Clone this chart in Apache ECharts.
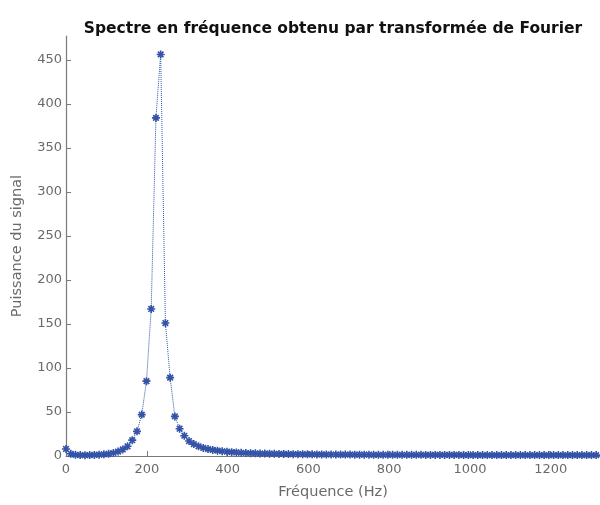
<!DOCTYPE html>
<html>
<head>
<meta charset="utf-8">
<script src="https://cdn.jsdelivr.net/npm/echarts@6/dist/echarts.min.js"></script>
<style>
  html, body { margin: 0; padding: 0; background: #fff; }
  #chart { width: 600px; height: 505px; }
</style>
</head>
<body>
<div id="chart"></div>
<script>
// Frequency resolution of the FFT (Hz per bin)
const binWidth = 11.71875;

// Power of each FFT bin, starting at 0 Hz
const power = [
  8, 2.5, 1.3, 1.0, 0.9, 1.0, 1.2, 1.5, 1.9, 2.5,
  3.4, 5, 7.5, 11, 18, 28, 47, 85, 167, 384,
  456, 151, 89, 45, 31, 23, 17, 13.5, 11, 9.2,
  7.9, 6.9, 6.1, 5.4, 4.9, 4.4, 4.0, 3.7, 3.4, 3.2,
  3.0, 2.8, 2.7, 2.6, 2.5, 2.4, 2.3, 2.2, 2.1, 2.0,
  2.0, 1.9, 1.9, 1.8, 1.8, 1.7, 1.7, 1.7, 1.6, 1.6,
  1.6, 1.5, 1.5, 1.5, 1.5, 1.4, 1.4, 1.4, 1.4, 1.4,
  1.3, 1.3, 1.3, 1.3, 1.3, 1.3, 1.2, 1.2, 1.2, 1.2,
  1.2, 1.2, 1.2, 1.2, 1.1, 1.1, 1.1, 1.1, 1.1, 1.1,
  1.1, 1.1, 1.1, 1.1, 1.0, 1.0, 1.0, 1.0, 1.0, 1.0,
  1.0, 1.0, 1.0, 1.0, 1.0, 1.0, 1.0, 1.0, 1.0, 1.0,
  1.0, 1.0, 1.0
];

const xTicks = [0, 200, 400, 600, 800, 1000, 1200];
const yTicks = [0, 50, 100, 150, 200, 250, 300, 350, 400, 450];

const points = power.map((p, i) => [i * binWidth, p]);

const axisColor = '#7a7a7a';
const textColor = '#6a6a6a';
const blue = '#3352a8';
const plainNumber = v => String(v);

const chart = echarts.init(document.getElementById('chart'));
chart.setOption({
  animation: false,
  title: {
    text: 'Spectre en fréquence obtenu par transformée de Fourier',
    left: 328,
    top: 16,
    textAlign: 'center',
    textStyle: {
      fontFamily: 'DejaVu Sans',
      fontWeight: 'bold',
      fontSize: 15.5,
      color: '#111'
    }
  },
  grid: { left: 66, right: 0, top: 36, bottom: 48 },
  xAxis: {
    type: 'value',
    min: 0,
    max: 1322,
    name: 'Fréquence (Hz)',
    nameLocation: 'middle',
    nameGap: 29,
    nameTextStyle: { fontFamily: 'DejaVu Sans', fontSize: 14.5, color: textColor },
    axisLine: { lineStyle: { color: axisColor, width: 1.2 } },
    axisTick: { inside: true, length: 5, lineStyle: { color: axisColor }, customValues: xTicks },
    axisLabel: { fontFamily: 'DejaVu Sans', fontSize: 13, color: textColor, margin: 7, customValues: xTicks, formatter: plainNumber },
    splitLine: { show: false }
  },
  yAxis: {
    type: 'value',
    min: 0,
    max: 477,
    name: 'Puissance du signal',
    nameLocation: 'middle',
    nameGap: 41,
    nameTextStyle: { fontFamily: 'DejaVu Sans', fontSize: 14.5, color: textColor },
    axisLine: { show: true, lineStyle: { color: axisColor, width: 1.2 } },
    axisTick: { show: true, inside: true, length: 5, lineStyle: { color: axisColor }, customValues: yTicks },
    axisLabel: { fontFamily: 'DejaVu Sans', fontSize: 13, color: textColor, margin: 4, customValues: yTicks, formatter: plainNumber },
    splitLine: { show: false }
  },
  series: [{
    type: 'line',
    data: points,
    showAllSymbol: true,
    symbol: 'path://M0,-5L0,5M-5,0L5,0M-3.5,-3.5L3.5,3.5M-3.5,3.5L3.5,-3.5',
    symbolSize: 8,
    itemStyle: { color: blue, borderColor: blue, borderWidth: 1.6 },
    lineStyle: { color: blue, width: 1, type: 'dotted' },
    clip: true
  }]
});
</script>
</body>
</html>
